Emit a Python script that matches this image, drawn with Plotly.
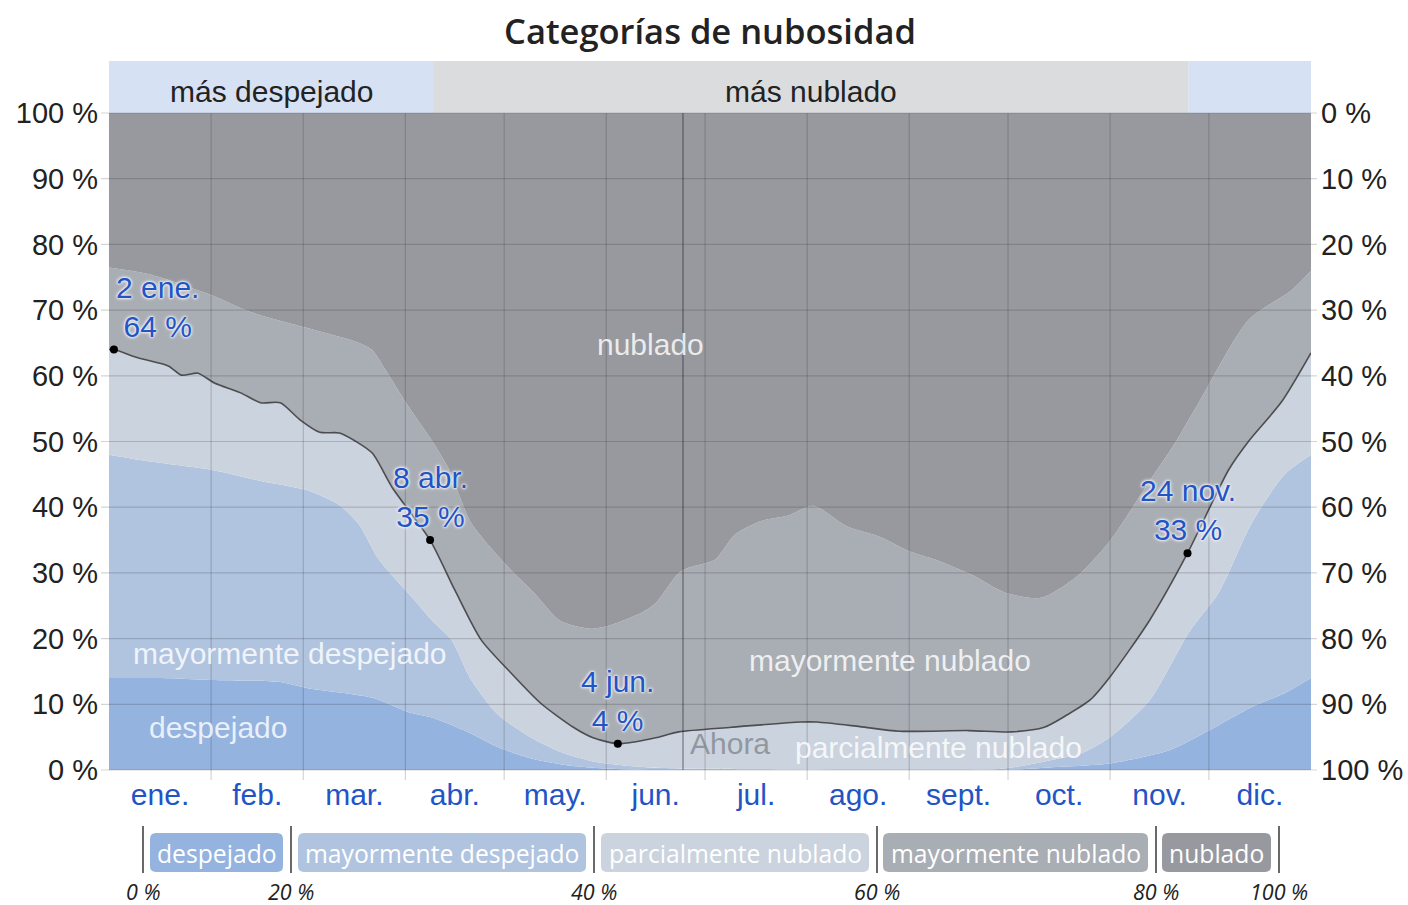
import plotly.graph_objects as go

# ---------------------------------------------------------------------------
# Cumulative share of time (%) below the upper edge of each cloud category,
# by day of year (0 = 1 ene., 365 = 31 dic.)
# ---------------------------------------------------------------------------
clear_days = [0, 16, 31, 52, 60, 80, 91, 98, 108, 118, 128, 138, 148, 164,
              271, 289, 304, 322, 334, 347, 357, 365]
clear_top = [14, 14, 13.7, 13.4, 12.5, 11, 8.8, 8, 6, 3.5, 1.8, 0.8, 0.3, 0,
             0, 0.5, 1, 3, 6, 9.6, 11.7, 14]

mostly_clear_days = [0, 12, 31, 46, 60, 70, 76, 82, 92, 98, 104, 110, 118, 128,
                     138, 148, 158, 168, 180, 271, 286, 295, 304, 316, 328, 337,
                     347, 357, 365]
mostly_clear_top = [48, 47, 45.7, 44, 42.6, 40.3, 37.3, 32, 26.3, 22.8, 19.8,
                    13.7, 8.5, 5, 2.6, 1.2, 0.6, 0.3, 0.2, 0.2, 1.5, 2.5, 5,
                    10.6, 21, 27, 37.6, 45, 48]

partly_days = [0, 1.5, 9, 18, 22, 27, 32, 40, 46, 52, 58, 64, 70, 75, 80, 86,
               97.5, 105, 113, 122, 131, 141, 147, 154.5, 160, 166, 173, 189,
               210, 215, 228, 240, 261, 274, 284, 291, 298, 304, 316, 327.5,
               340, 346, 356, 365]
partly_top = [64, 64, 62.7, 61.5, 60.1, 60.4, 58.9, 57.4, 55.9, 55.9, 53.3,
              51.4, 51.3, 50, 48.2, 43, 35, 27.4, 19.8, 14.8, 10.2, 6.5, 4.9,
              4, 4.3, 4.9, 5.8, 6.5, 7.3, 7.3, 6.6, 5.9, 6, 5.8, 6.5, 8.4,
              10.7, 14.2, 22.8, 33, 45.7, 50, 56, 63.5]

mostly_cloudy_days = [0, 12, 31, 43, 60, 76, 80, 84, 91, 98, 103, 110, 121, 129,
                      137, 146, 152, 162, 166, 173, 176, 184, 190, 198, 206,
                      214, 224, 234, 243, 251, 262, 272, 283, 294, 304, 316,
                      324, 331, 346, 359, 365]
mostly_cloudy_top = [76.5, 75.5, 72.3, 69.7, 67.3, 65, 63.9, 60.9, 55.3, 50.2,
                     46, 37.6, 31, 27, 22.7, 21.5, 22, 24, 25.4, 30, 30.8, 32,
                     35.8, 37.9, 38.7, 40.2, 37.1, 35.5, 33.3, 32, 29.7, 27,
                     26.2, 29.5, 34.9, 44, 50, 56, 68.5, 73, 76]

category_names = ["despejado", "mayormente despejado", "parcialmente nublado",
                  "mayormente nublado", "nublado"]
category_colors = ["#94b3df", "#b0c4e0", "#cbd3de", "#a9adb4", "#97999e"]
legend_bounds = [0, 20, 40, 60, 80, 100]

month_names = ["ene.", "feb.", "mar.", "abr.", "may.", "jun.", "jul.", "ago.",
               "sept.", "oct.", "nov.", "dic."]
month_starts = [0, 31, 59, 90, 120, 151, 181, 212, 243, 273, 304, 334, 365]

highlight_days = [1.5, 97.5, 154.5, 327.5]
highlight_dates = ["2 ene.", "8 abr.", "4 jun.", "24 nov."]
highlight_values = [64, 35, 4, 33]

now_day = 174.3
clearer_start, clearer_end = 98.4, 327.7

# ---------------------------------------------------------------------------
W, H = 1408, 905
PL, PR, PT, PB = 109, 1311, 113, 770
PW, PH = PR - PL, PB - PT


def px(x):
    return (x - PL) / PW


def py(y):
    return (PB - y) / PH


TICK_FONT = "Liberation Sans"
LEG_FONT = "Open Sans"
GRID = "rgba(40,40,45,0.2)"
SMOOTH = dict(shape="spline", smoothing=0.7)

fig = go.Figure()

# stacked category areas
bounds = [(clear_days, clear_top), (mostly_clear_days, mostly_clear_top),
          (partly_days, partly_top), (mostly_cloudy_days, mostly_cloudy_top),
          ([0, 365], [100, 100])]
for i, ((d, v), name, col) in enumerate(zip(bounds, category_names, category_colors)):
    fig.add_trace(go.Scatter(
        x=d, y=v, mode="lines", line=dict(width=0, color=col, **SMOOTH),
        fill="tozeroy" if i == 0 else "tonexty", fillcolor=col,
        name=name, showlegend=False, hoverinfo="skip"))

# boundary between partly and mostly cloudy
fig.add_trace(go.Scatter(x=partly_days, y=partly_top, mode="lines",
                         line=dict(color="#4d4d4f", width=1.6, **SMOOTH),
                         showlegend=False, hoverinfo="skip"))
fig.add_trace(go.Scatter(x=highlight_days, y=highlight_values, mode="markers",
                         marker=dict(color="black", size=8),
                         showlegend=False, hoverinfo="skip"))
# carrier for the reversed right-hand axis
fig.add_trace(go.Scatter(x=[0], y=[0], yaxis="y2", mode="markers",
                         marker=dict(opacity=0), showlegend=False,
                         hoverinfo="skip"))

shapes = []
# "más despejado" / "más nublado" band
shapes.append(dict(type="rect", xref="paper", yref="paper", x0=0,
                   x1=clearer_start / 365, y0=1, y1=py(61),
                   fillcolor="#d6e1f3", line=dict(width=0), layer="below"))
shapes.append(dict(type="rect", xref="paper", yref="paper",
                   x0=clearer_start / 365, x1=clearer_end / 365, y0=1,
                   y1=py(61), fillcolor="#dbdcde", line=dict(width=0),
                   layer="below"))
shapes.append(dict(type="rect", xref="paper", yref="paper",
                   x0=clearer_end / 365, x1=1, y0=1, y1=py(61),
                   fillcolor="#d6e1f3", line=dict(width=0), layer="below"))

# grid
for v in range(0, 101, 10):
    shapes.append(dict(type="line", xref="paper", yref="paper",
                       x0=px(PL - 8), x1=px(PR + 6), y0=v / 100, y1=v / 100,
                       line=dict(color=GRID, width=1.2), layer="above"))
for d in month_starts[1:-1]:
    shapes.append(dict(type="line", xref="paper", yref="paper",
                       x0=d / 365, x1=d / 365, y0=py(PB + 10), y1=1,
                       line=dict(color=GRID, width=1.2), layer="above"))
shapes.append(dict(type="line", xref="paper", yref="paper",
                   x0=now_day / 365, x1=now_day / 365, y0=0, y1=1,
                   line=dict(color="rgba(30,30,35,0.38)", width=1.6),
                   layer="above"))


def rounded_box(x0, y0, x1, y1, r, color):
    pts = [("M", x0 + r, y0), ("L", x1 - r, y0), ("Q", x1, y0, x1, y0 + r),
           ("L", x1, y1 - r), ("Q", x1, y1, x1 - r, y1), ("L", x0 + r, y1),
           ("Q", x0, y1, x0, y1 - r), ("L", x0, y0 + r),
           ("Q", x0, y0, x0 + r, y0)]
    path = ""
    for p in pts:
        cmd, coords = p[0], p[1:]
        xy = [f"{px(coords[k]):.5f},{py(coords[k + 1]):.5f}"
              for k in range(0, len(coords), 2)]
        path += cmd + " ".join(xy) + " "
    return dict(type="path", xref="paper", yref="paper", path=path + "Z",
                fillcolor=color, line=dict(width=0), layer="above")


# legend strip
leg_sep_x = [143, 291, 594, 877, 1156, 1279]
leg_boxes = [(150, 283), (298, 586), (601, 869), (883, 1148), (1162, 1271)]
for x in leg_sep_x:
    shapes.append(dict(type="line", xref="paper", yref="paper", x0=px(x),
                       x1=px(x), y0=py(826), y1=py(873),
                       line=dict(color="#444", width=1.6)))
for (a, b), col in zip(leg_boxes, category_colors):
    shapes.append(rounded_box(a, 833, b, 872, 6, col))

annotations = []


def text_at(x, y, text, size, color, family=TICK_FONT, **kw):
    annotations.append(dict(xref="paper", yref="paper", x=px(x), y=py(y),
                            text=text, showarrow=False, xanchor="center",
                            yanchor="middle",
                            font=dict(size=size, color=color, family=family,
                                      **kw)))


text_at((PL + PL + clearer_start / 365 * PW) / 2, 92, "más despejado", 30, "#222")
text_at(PL + (clearer_start + clearer_end) / 2 / 365 * PW, 92, "más nublado", 30, "#222")

# in-chart category labels
LBL = "rgba(255,255,255,0.82)"
text_at(650, 344, "nublado", 30, LBL)
text_at(890, 660, "mayormente nublado", 30, LBL)
text_at(290, 653, "mayormente despejado", 30, LBL)
text_at(218, 727, "despejado", 30, LBL)
text_at(938, 747, "parcialmente nublado", 30, LBL)
text_at(730, 743, "Ahora", 30, "rgba(120,124,130,0.7)")

# highlighted dates
HALO = "0 0 2px #eef0f4, 0 0 2px #eef0f4, 0 0 3px #eef0f4, 0 0 4px #eef0f4"
for d, lab, v in zip(highlight_days, highlight_dates, highlight_values):
    annotations.append(dict(
        x=d, y=v, xref="x", yref="y", text=f"{lab}<br>{v} %",
        showarrow=False, xanchor="center", yanchor="middle", yshift=43,
        xshift=44 if d < 10 else 0,
        font=dict(size=30, color="#2254c6", family=TICK_FONT, shadow=HALO)))

# legend labels
for (a, b), name in zip(leg_boxes, category_names):
    text_at((a + b) / 2, 853, name, 24.7, "white", family=LEG_FONT)
for x, p in zip(leg_sep_x, legend_bounds):
    text_at(x, 891, f"{p} %", 21.5, "#222", family=LEG_FONT, style="italic")

month_mids = [(a + b) / 2 for a, b in zip(month_starts[:-1], month_starts[1:])]
pct_ticks = list(range(0, 101, 10))

fig.update_layout(
    width=W, height=H,
    margin=dict(l=PL, r=W - PR, t=PT, b=H - PB, pad=0),
    paper_bgcolor="white", plot_bgcolor="white",
    title=dict(text="Categorías de nubosidad", x=0.5, xref="paper",
               xanchor="center", y=1 - 32 / H, yanchor="middle",
               font=dict(size=34.5, color="#222", family="Open Sans",
                         weight=600)),
    xaxis=dict(range=[0, 365], showgrid=False, zeroline=False,
               tickvals=month_mids, ticktext=month_names, ticks="",
               tickfont=dict(size=30, color="#2254c6", family=TICK_FONT),
               ticklabelstandoff=4, automargin=False, fixedrange=True),
    yaxis=dict(range=[0, 100], showgrid=False, zeroline=False,
               tickvals=pct_ticks, ticktext=[f"{v} %" for v in pct_ticks],
               ticks="", tickfont=dict(size=29, color="#222",
                                        family=TICK_FONT),
               ticklabelstandoff=10, automargin=False, fixedrange=True),
    yaxis2=dict(range=[100, 0], overlaying="y", side="right", showgrid=False,
                zeroline=False, tickvals=pct_ticks,
                ticktext=[f"{v} %" for v in pct_ticks], ticks="",
                tickfont=dict(size=29, color="#222", family=TICK_FONT),
                ticklabelstandoff=9, automargin=False, fixedrange=True),
    shapes=shapes,
    annotations=annotations,
    showlegend=False,
)

fig.write_html("out.html")
